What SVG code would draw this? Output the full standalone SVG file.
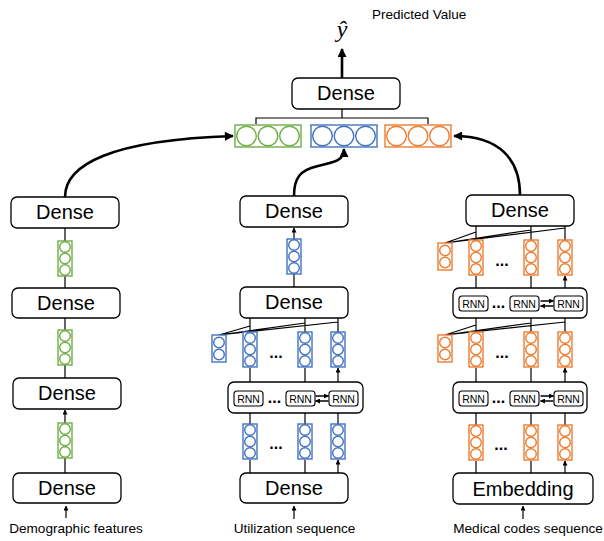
<svg xmlns="http://www.w3.org/2000/svg" xmlns:xlink="http://www.w3.org/1999/xlink" width="604" height="541" viewBox="0 0 604 541">
<style>
.box{fill:#fff;stroke:#000;stroke-width:1.3}
.rnn{fill:#fff;stroke:#000;stroke-width:1.1}
.lbl{font-family:"Liberation Sans",Arial,sans-serif;font-size:20px;text-anchor:middle;fill:#000}
.rt{font-family:"Liberation Sans",Arial,sans-serif;font-size:10.5px;text-anchor:middle;fill:#000}
.cap{font-family:"Liberation Sans",Arial,sans-serif;font-size:13.6px;text-anchor:middle;fill:#000}
.dots{font-family:"Liberation Sans",Arial,sans-serif;font-size:16px;font-weight:bold;text-anchor:middle;fill:#000}
.ln{fill:none;stroke:#000;stroke-width:1.2}
.sa{fill:none;stroke:#000;stroke-width:1.2;marker-end:url(#sa)}
.cv{fill:none;stroke:#000;stroke-width:2.6;marker-end:url(#ba)}
.g{fill:#fff;stroke:#70AD47;stroke-width:1.4}
.b{fill:#fff;stroke:#4472C4;stroke-width:1.4}
.o{fill:#fff;stroke:#ED7D31;stroke-width:1.4}
</style>
<defs>
<marker id="sa" viewBox="0 0 10 10" refX="9" refY="5" markerWidth="5" markerHeight="5" markerUnits="userSpaceOnUse" orient="auto"><path d="M0,0 L10,5 L0,10 z" fill="#000"/></marker>
<marker id="ba" viewBox="0 0 10 10" refX="9" refY="5" markerWidth="10" markerHeight="9" markerUnits="userSpaceOnUse" orient="auto"><path d="M0,0 L10,5 L0,10 z" fill="#000"/></marker>
<g id="v3"><rect x="-7" y="0" width="14" height="35"/><circle cx="0" cy="6" r="5.3"/><circle cx="0" cy="17.5" r="5.3"/><circle cx="0" cy="29" r="5.3"/></g>
<g id="v2"><rect x="-7" y="0" width="14" height="27"/><circle cx="0" cy="7.5" r="5.3"/><circle cx="0" cy="19.5" r="5.3"/></g>
<g id="h3"><rect x="0" y="0" width="66" height="22"/><circle cx="11.5" cy="11" r="9.8"/><circle cx="33" cy="11" r="9.8"/><circle cx="54.5" cy="11" r="9.8"/></g>
<g id="rnnbox"><rect class="rnn" x="0" y="0" width="29" height="15" rx="3"/><text class="rt" x="14.5" y="11.5">RNN</text></g>
<g id="dbl"><path style="fill:none;stroke:#000;stroke-width:1.5;marker-end:url(#sa)" d="M0,0 H13"/><path style="fill:none;stroke:#000;stroke-width:1.5;marker-end:url(#sa)" d="M13,5 H0"/></g>
</defs>

<g id="connectors">
<path class="cv" d="M342,78 V49"/>
<path class="ln" d="M256,124 V118 H428 V124 M342,118 V109"/>
<path class="cv" d="M65,197 C65,165 110,140 233,136"/>
<path class="cv" d="M294,196 C294,178 300,170 318,166 C336,162 344,160 344,149"/>
<path class="cv" d="M520,195 C520,160 500,136 454,136"/>
<!-- left column -->
<path class="ln" d="M65,228 V241 M65,276 V288 M65,318 V330 M65,365 V378 M65,458 V473"/>
<path class="sa" d="M65,423 V410"/>
<path class="sa" d="M66,518 V506"/>
<!-- middle column -->
<path class="sa" d="M294,239 V228"/>
<path class="ln" d="M294,274 V287"/>
<path class="ln" d="M250,318 V332 M305,318 V332 M338,318 V332 M219,335 L250,326 M219,335 L305,323 M219,335 L338,322"/>
<path class="sa" d="M250,382 V368 M305,382 V368 M338,382 V368"/>
<path class="ln" d="M250,413 V424 M305,413 V424 M338,413 V424"/>
<path class="sa" d="M250,473 V460 M305,473 V460 M338,473 V460"/>
<path class="sa" d="M294,519 V506"/>
<!-- right column -->
<path class="ln" d="M476,226 V240 M531,226 V240 M565,226 V240 M445,243 L476,232 M445,243 L531,230 M445,243 L565,228"/>
<path class="sa" d="M476,288 V276 M531,288 V276 M565,288 V276"/>
<path class="ln" d="M476,318 V332 M531,318 V332 M565,318 V332 M445,335 L476,325 M445,335 L531,323 M445,335 L565,322"/>
<path class="sa" d="M476,382 V368 M531,382 V368 M565,382 V368"/>
<path class="ln" d="M476,413 V425 M531,413 V425 M565,413 V425"/>
<path class="sa" d="M476,473 V461 M531,473 V461 M565,473 V461"/>
<path class="sa" d="M523,519 V506"/>
</g>

<!-- top -->
<g id="output">
<text x="372" y="19" font-family="Liberation Sans,Arial,sans-serif" font-size="13.5" fill="#000">Predicted Value</text>
<text x="342" y="37" font-family="Liberation Serif,Times New Roman,serif" font-style="italic" font-size="24" text-anchor="middle" fill="#000">ŷ</text>
</g>
<g id="dense-top"><rect class="box" x="292" y="78" width="108" height="31" rx="6"/><text class="lbl" x="346" y="100">Dense</text></g>
<g id="concat">
<use href="#h3" class="g" x="235" y="125"/>
<use href="#h3" class="b" x="311" y="125"/>
<use href="#h3" class="o" x="385" y="125"/>
</g>

<!-- left column -->
<g id="l-dense1"><rect class="box" x="11" y="197" width="108" height="31" rx="6"/><text class="lbl" x="65" y="219">Dense</text></g>
<g id="l-vec1"><use href="#v3" class="g" x="65" y="241"/></g>
<g id="l-dense2"><rect class="box" x="12" y="288" width="108" height="30" rx="6"/><text class="lbl" x="66" y="310">Dense</text></g>
<g id="l-vec2"><use href="#v3" class="g" x="65" y="330"/></g>
<g id="l-dense3"><rect class="box" x="13" y="378" width="108" height="31" rx="6"/><text class="lbl" x="67" y="400">Dense</text></g>
<g id="l-vec3"><use href="#v3" class="g" x="65" y="423"/></g>
<g id="l-dense4"><rect class="box" x="13" y="473" width="108" height="30" rx="6"/><text class="lbl" x="67" y="495">Dense</text></g>
<g id="l-label"><text class="cap" x="76" y="533">Demographic features</text></g>

<!-- middle column -->
<g id="m-dense1"><rect class="box" x="240" y="196" width="108" height="31" rx="6"/><text class="lbl" x="294" y="218">Dense</text></g>
<g id="m-vec1"><use href="#v3" class="b" x="294" y="239"/></g>
<g id="m-dense2"><rect class="box" x="240" y="287" width="108" height="31" rx="6"/><text class="lbl" x="294" y="309">Dense</text></g>
<g id="m-out">
<use href="#v2" class="b" x="219" y="335"/>
<use href="#v3" class="b" x="250" y="332"/>
<use href="#v3" class="b" x="305" y="332"/>
<use href="#v3" class="b" x="338" y="332"/>
<text class="dots" x="276" y="358">...</text>
</g>
<g id="m-rnn">
<rect class="box" x="228" y="382" width="135" height="31" rx="6"/>
<use href="#rnnbox" x="234" y="391"/>
<use href="#rnnbox" x="286" y="391"/>
<use href="#rnnbox" x="329" y="391"/>
<text class="dots" x="274.5" y="403">...</text>
<use href="#dbl" x="315.5" y="396"/>
</g>
<g id="m-in">
<use href="#v3" class="b" x="250" y="424"/>
<use href="#v3" class="b" x="305" y="424"/>
<use href="#v3" class="b" x="338" y="424"/>
<text class="dots" x="276" y="449">...</text>
</g>
<g id="m-dense3"><rect class="box" x="240" y="473" width="108" height="30" rx="6"/><text class="lbl" x="294" y="495">Dense</text></g>
<g id="m-label"><text class="cap" x="294.5" y="533">Utilization sequence</text></g>

<!-- right column -->
<g id="r-dense"><rect class="box" x="466" y="195" width="108" height="31" rx="6"/><text class="lbl" x="520" y="217">Dense</text></g>
<g id="r-out1">
<use href="#v2" class="o" x="445" y="243"/>
<use href="#v3" class="o" x="476" y="240"/>
<use href="#v3" class="o" x="531" y="240"/>
<use href="#v3" class="o" x="565" y="240"/>
<text class="dots" x="502" y="266">...</text>
</g>
<g id="r-rnn1">
<rect class="box" x="453" y="288" width="134" height="30" rx="6"/>
<use href="#rnnbox" x="459" y="296"/>
<use href="#rnnbox" x="510" y="296"/>
<use href="#rnnbox" x="554" y="296"/>
<text class="dots" x="498.5" y="308">...</text>
<use href="#dbl" x="540.5" y="301"/>
</g>
<g id="r-out2">
<use href="#v2" class="o" x="445" y="335"/>
<use href="#v3" class="o" x="476" y="332"/>
<use href="#v3" class="o" x="531" y="332"/>
<use href="#v3" class="o" x="565" y="332"/>
<text class="dots" x="502" y="358">...</text>
</g>
<g id="r-rnn2">
<rect class="box" x="453" y="382" width="134" height="31" rx="6"/>
<use href="#rnnbox" x="459" y="391"/>
<use href="#rnnbox" x="510" y="391"/>
<use href="#rnnbox" x="554" y="391"/>
<text class="dots" x="498.5" y="403">...</text>
<use href="#dbl" x="540.5" y="396"/>
</g>
<g id="r-in">
<use href="#v3" class="o" x="476" y="425"/>
<use href="#v3" class="o" x="531" y="425"/>
<use href="#v3" class="o" x="565" y="425"/>
<text class="dots" x="501" y="450">...</text>
</g>
<g id="r-embed"><rect class="box" x="453" y="473" width="140" height="31" rx="6"/><text class="lbl" x="523" y="496">Embedding</text></g>
<g id="r-label"><text class="cap" x="528" y="533">Medical codes sequence</text></g>
</svg>
